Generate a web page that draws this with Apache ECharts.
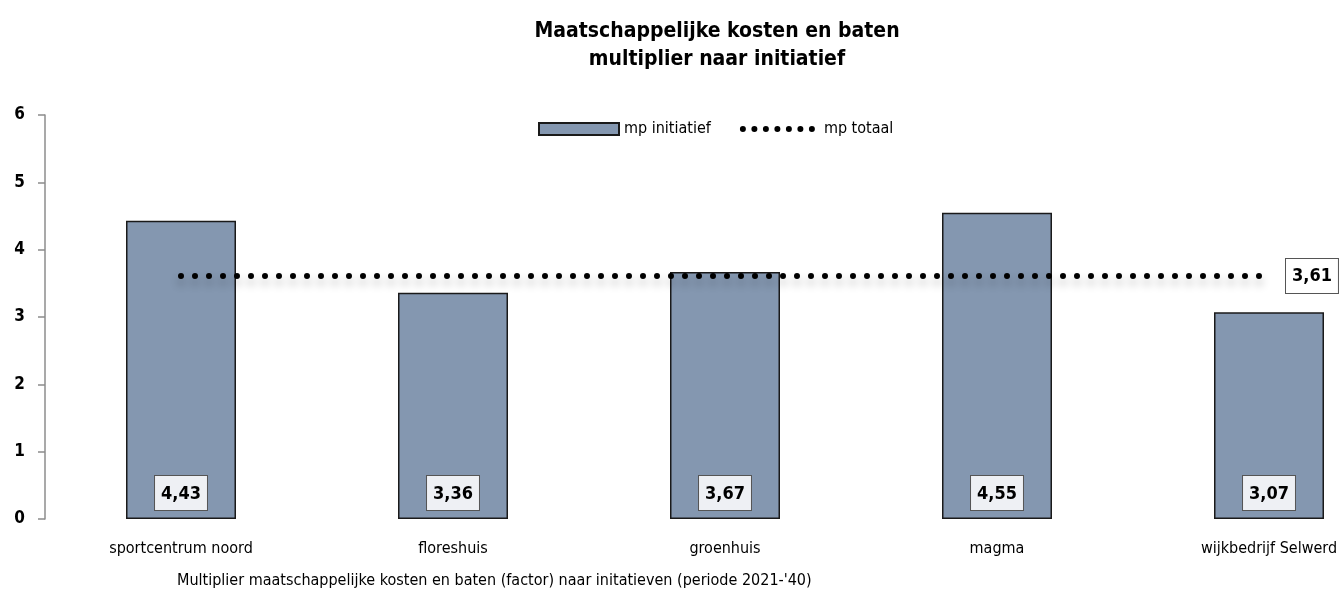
<!DOCTYPE html>
<html>
<head>
<meta charset="utf-8">
<script src="https://cdn.jsdelivr.net/npm/echarts@6/dist/echarts.min.js"></script>
<style>
  html, body { margin: 0; padding: 0; background: #fff; }
  #chart { width: 1340px; height: 590px; }
</style>
</head>
<body>
<div id="chart"></div>
<script>
// initiatieven en multipliers
const categories = ['sportcentrum noord', 'floreshuis', 'groenhuis', 'magma', 'wijkbedrijf Selwerd'];
const mpInitiatief = [4.43, 3.36, 3.67, 4.55, 3.07];
const mpTotaal = [3.61, 3.61, 3.61, 3.61, 3.61];
const yTicks = [0, 1, 2, 3, 4, 5, 6];

const FONT = "'Liberation Sans Narrow', 'DejaVu Sans Condensed', sans-serif";
const fmt = v => v.toFixed(2).replace('.', ',');

// legend icon: 7 dots in an 80x12 box, free space on the right
let dotsPath = 'path://M0 0 M80 12';
for (let i = 0; i < 7; i++) {
  const cx = 4 + i * 11.5;
  dotsPath += ' M' + (cx - 3) + ' 6 a3 3 0 1 0 6 0 a3 3 0 1 0 -6 0';
}

const chart = echarts.init(document.getElementById('chart'));

const option = {
  animation: false,
  textStyle: { fontFamily: FONT },
  title: [
    {
      text: 'Maatschappelijke kosten en baten\nmultiplier naar initiatief',
      left: 712,
      textAlign: 'center',
      top: 13,
      textStyle: { fontFamily: FONT, fontWeight: 'bold', fontSize: 21, lineHeight: 28, color: '#000' }
    },
    {
      text: "Multiplier maatschappelijke kosten en baten (factor) naar initatieven (periode 2021-'40)",
      left: 172,
      top: 568,
      textStyle: { fontFamily: FONT, fontWeight: 'normal', fontSize: 16, color: '#000' }
    }
  ],
  legend: {
    top: 116,
    left: 533,
    itemWidth: 80,
    itemHeight: 12,
    itemGap: 28,
    textStyle: { fontFamily: FONT, fontSize: 16, color: '#000' },
    data: [
      { name: 'mp initiatief', icon: 'rect' },
      { name: 'mp totaal', icon: dotsPath, itemStyle: { color: '#000', borderWidth: 0 } }
    ]
  },
  grid: { left: 45, top: 115, bottom: 71, width: 1360, outerBoundsMode: 'none' },
  xAxis: {
    type: 'category',
    data: categories,
    axisLine: { show: false },
    axisTick: { show: false },
    axisLabel: { fontFamily: FONT, fontSize: 16, color: '#000', margin: 22 }
  },
  yAxis: {
    type: 'value',
    min: yTicks[0],
    max: yTicks[yTicks.length - 1],
    interval: 1,
    splitLine: { show: false },
    axisLine: { show: true, lineStyle: { color: '#8c8c8c', width: 1.5 } },
    axisTick: { show: true, length: 7, lineStyle: { color: '#8c8c8c', width: 1.5 } },
    axisLabel: { fontFamily: FONT, fontWeight: 'bold', fontSize: 17, color: '#000', margin: 20 }
  },
  series: [
    {
      name: 'mp initiatief',
      type: 'bar',
      data: mpInitiatief,
      barWidth: 110,
      itemStyle: { color: '#8497b0', borderColor: '#1a1a1a', borderWidth: 1.5 },
      label: {
        show: true,
        position: 'insideBottom',
        distance: 9,
        formatter: p => fmt(p.value),
        fontFamily: FONT,
        fontWeight: 'bold',
        fontSize: 18,
        color: '#000',
        backgroundColor: '#eef0f4',
        borderColor: '#555',
        borderWidth: 1,
        padding: [9, 6, 7, 6]
      },
      z: 2
    },
    {
      name: 'mp totaal',
      type: 'line',
      data: mpTotaal,
      symbol: 'none',
      lineStyle: {
        color: '#000',
        width: 6,
        type: [0, 14],
        cap: 'round',
        shadowColor: 'rgba(0,0,0,0.3)',
        shadowBlur: 9,
        shadowOffsetY: 6
      },
      itemStyle: { color: '#000' },
      endLabel: {
        show: true,
        distance: 17,
        formatter: p => fmt(p.value),
        fontFamily: FONT,
        fontWeight: 'bold',
        fontSize: 18,
        color: '#000',
        backgroundColor: '#fff',
        borderColor: '#555',
        borderWidth: 1,
        padding: [9, 6, 7, 6]
      },
      z: 3
    }
  ]
};

chart.setOption(option);
</script>
</body>
</html>
